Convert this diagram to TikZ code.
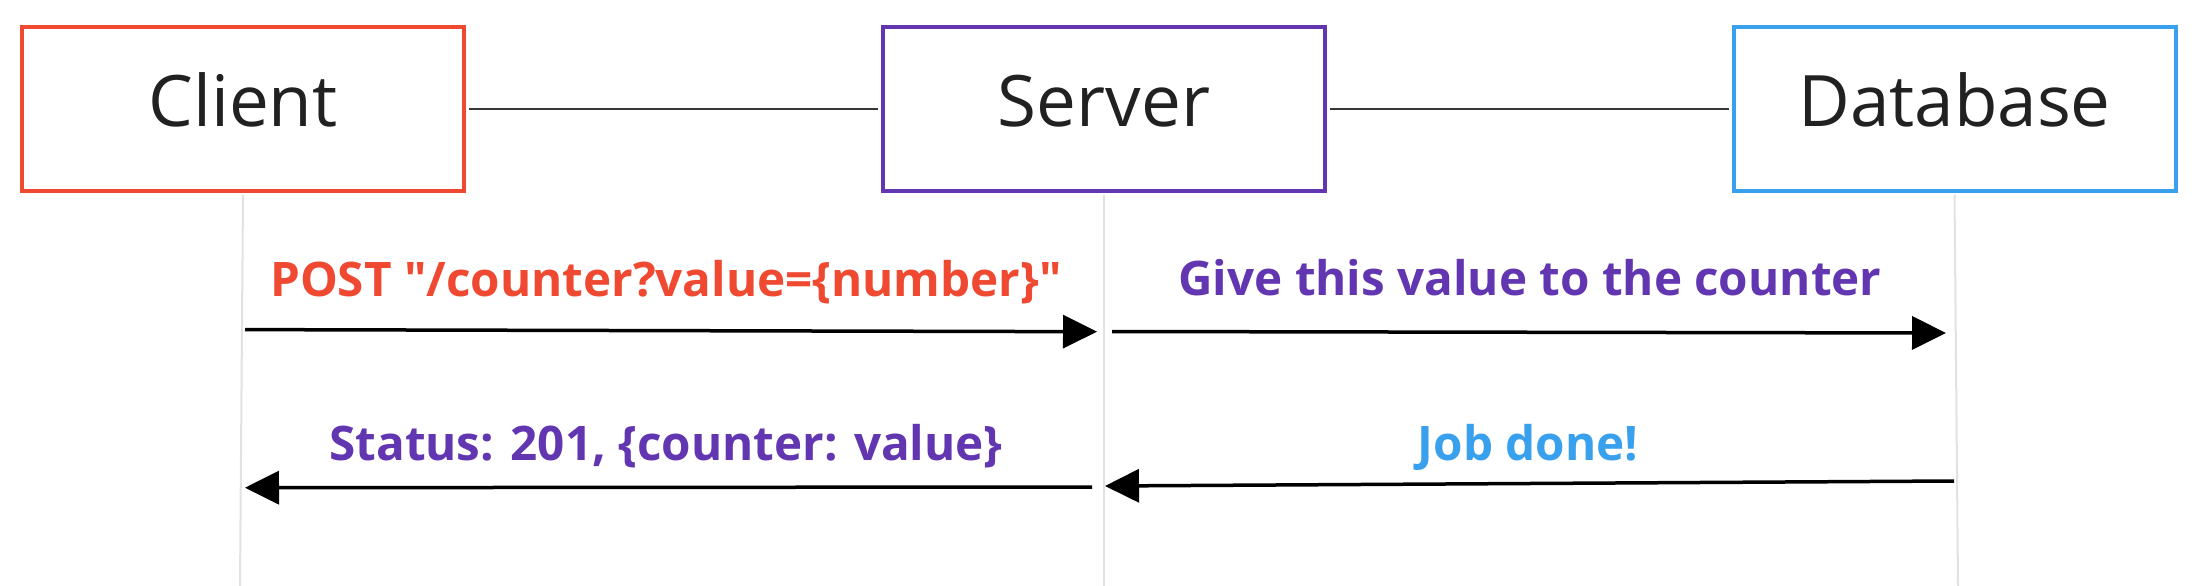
\documentclass[tikz,border=0pt]{standalone}
\usepackage{fontspec}
\newfontfamily\osans{Open Sans}
\usetikzlibrary{arrows.meta}
\definecolor{cred}{HTML}{EF4A31}
\definecolor{cpurple}{HTML}{6235B1}
\definecolor{cblue}{HTML}{39A0EE}
\definecolor{ctext}{HTML}{212121}
\definecolor{clife}{HTML}{E2E2E2}
\tikzset{
  actor/.style={draw, line width=4pt, minimum width=442pt, minimum height=163.5pt,
    inner sep=0pt, text height=50pt, text depth=15pt, text=ctext,
    font=\osans\fontsize{71}{80}\selectfont},
  link/.style={draw=ctext!90, line width=2pt},
  lifeline/.style={draw=clife, line width=2pt},
  msg/.style={draw=black, line width=3.5pt, -{Triangle[length=34pt,width=33pt]}},
  msglabel/.style={anchor=base, font=\osans\fontsize{47.6}{56}\selectfont\bfseries}
}
\begin{document}
\begin{tikzpicture}[x=1pt,y=-1pt]
\useasboundingbox (0,0) rectangle (2206,586);
\fill[white] (0,0) rectangle (2206,586);
\node[actor, draw=cred] (client) at (243,108.8) {Client};
\node[actor, draw=cpurple] (server) at (1104,108.8) {Server};
\node[actor, draw=cblue] (db) at (1954.5,108.8) {Database};
\draw[link, shorten <=3pt, shorten >=3pt] (client.east) -- (server.west);
\draw[link, shorten <=3pt, shorten >=3pt] (server.east) -- (db.west);
\coordinate (cb) at (240,586);
\coordinate (sb) at (1104,586);
\coordinate (db2) at (1958,586);
\draw[lifeline] ([yshift=-2pt]client.south) -- (cb);
\draw[lifeline] ([yshift=-2pt]server.south) -- (sb);
\draw[lifeline] ([yshift=-2pt]db.south) -- (db2);
\coordinate (a1s) at (245,329.6);
\coordinate (a1e) at (1097,331.7);
\coordinate (a2s) at (1112,331.5);
\coordinate (a2e) at (1946,333);
\coordinate (a3s) at (1092,487);
\coordinate (a3e) at (245,487.7);
\coordinate (a4s) at (1954,481);
\coordinate (a4e) at (1105,486);
\draw[msg] (a1s) -- (a1e);
\draw[msg] (a2s) -- (a2e);
\draw[msg] (a3s) -- (a3e);
\draw[msg] (a4s) -- (a4e);
\node[msglabel, text=cred] (l1) at (666,296) {POST "/counter?value=\{number\}"};
\node[msglabel, text=cpurple] (l2) at (1530,295) {Give this value to the counter};
\node[msglabel, text=cpurple] (l3) at (666,460) {Status: 201, \{counter: value\}};
\node[msglabel, text=cblue] (l4) at (1528,460) {Job done!};
\end{tikzpicture}
\end{document}
